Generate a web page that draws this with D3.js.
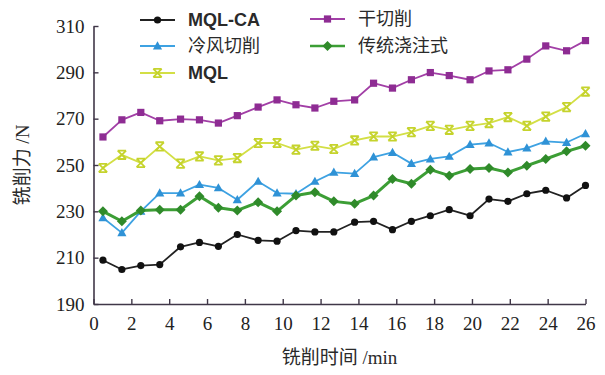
<!DOCTYPE html>
<html>
<head>
<meta charset="utf-8">
<script src="https://cdn.jsdelivr.net/npm/d3@7"></script>
<style>
  html, body { margin: 0; padding: 0; background: #ffffff; }
  svg { display: block; }
</style>
</head>
<body>
<svg id="chart" width="605" height="375"></svg>
<script>
// Milling time (min) of each measurement
const times = [0.5, 1.5, 2.5, 3.5, 4.6, 5.6, 6.6, 7.6, 8.7, 9.7, 10.7, 11.7, 12.7,
               13.8, 14.8, 15.8, 16.8, 17.8, 18.8, 19.9, 20.9, 21.9, 22.9, 23.9, 25.0, 26.0];

// Milling force (N) under each cooling/lubrication condition
const mqlCA = [208.9, 204.9, 206.6, 207.0, 214.7, 216.6, 214.9, 220.0, 217.5, 217.1, 221.7, 221.1, 221.1,
               225.3, 225.7, 222.1, 225.7, 228.1, 230.7, 228.1, 235.3, 234.3, 237.6, 239.1, 235.8, 241.2];
const dryCut = [262.1, 269.5, 272.7, 269.1, 269.8, 269.5, 268.1, 271.3, 275.0, 278.1, 276.0, 274.6, 277.5,
                278.1, 285.3, 283.2, 286.8, 289.9, 288.6, 286.8, 290.6, 291.1, 295.7, 301.4, 299.3, 303.7];
const coldAir = [227.2, 220.7, 230.0, 237.9, 237.9, 241.5, 240.1, 235.0, 242.9, 237.9, 237.6, 242.9, 246.8,
                 246.3, 253.4, 255.4, 250.6, 252.6, 253.7, 258.8, 259.5, 255.6, 257.3, 260.2, 259.7, 263.5];
const flood = [230.0, 225.7, 230.4, 230.7, 230.7, 236.5, 231.5, 230.4, 233.9, 230.0, 236.8, 238.2, 234.3,
               233.3, 236.8, 244.0, 241.9, 248.0, 245.4, 248.3, 248.7, 246.8, 249.7, 252.6, 255.9, 258.3];
const mql = [248.7, 254.4, 250.9, 258.0, 250.6, 253.7, 252.0, 253.0, 259.5, 259.5, 256.6, 258.3, 256.9,
             260.6, 262.3, 262.3, 264.2, 266.9, 265.2, 266.9, 268.1, 270.7, 266.9, 270.9, 275.0, 281.7];

// Axis ticks and titles
const xTicks = [0, 2, 4, 6, 8, 10, 12, 14, 16, 18, 20, 22, 24, 26];
const yTicks = [190, 210, 230, 250, 270, 290, 310];
const xTitle = ["铣削时间", " /min"];
const yTitle = ["铣削力", " /N"];

// Series: name, values, colours, marker
const seriesNames = ["MQL-CA", "冷风切削", "MQL", "干切削", "传统浇注式"];
const seriesValues = [mqlCA, coldAir, mql, dryCut, flood];
const lineColors = ["#222222", "#3ea2e2", "#d3df45", "#a23fa6", "#3c9e35"];
const markColors = ["#111111", "#2f92d6", "#c5d32c", "#8e2c93", "#2f8a2a"];
const markers = ["circle", "triangle", "x", "square", "diamond"];
const lineWidths = [1.8, 1.8, 1.8, 1.8, 3];

const svg = d3.select("#chart");
const axisColor = "#403748";

const x = d3.scaleLinear().domain([0, 26]).range([93.5, 585.5]);
const y = d3.scaleLinear().domain([190, 310]).range([304, 26]);

// Axes with inward ticks
const yAxis = svg.append("g")
  .attr("transform", `translate(${x(0)},0)`)
  .call(d3.axisLeft(y).tickValues(yTicks).tickFormat(d3.format("d"))
    .tickSizeInner(-5).tickSizeOuter(0).tickPadding(9));
const xAxis = svg.append("g")
  .attr("transform", `translate(0,${y(190)})`)
  .call(d3.axisBottom(x).tickValues(xTicks).tickFormat(d3.format("d"))
    .tickSizeInner(-5).tickSizeOuter(0).tickPadding(13));

[xAxis, yAxis].forEach(g => {
  g.select(".domain").attr("stroke", axisColor).attr("stroke-width", 1.6);
  g.selectAll(".tick line").attr("stroke", axisColor).attr("stroke-width", 1.4);
  g.selectAll(".tick text")
    .attr("fill", "#222")
    .attr("font-family", "'Liberation Serif', 'DejaVu Serif', serif")
    .attr("font-size", 19);
});

// Marker shapes
function drawMarker(g, type, cx, cy, color) {
  if (type === "circle") {
    g.append("circle").attr("cx", cx).attr("cy", cy).attr("r", 3.6).attr("fill", color);
  } else if (type === "square") {
    g.append("rect").attr("x", cx - 3.6).attr("y", cy - 3.6).attr("width", 7.2).attr("height", 7.2).attr("fill", color);
  } else if (type === "triangle") {
    g.append("path").attr("d", `M${cx},${cy - 4.8}L${cx + 4.6},${cy + 3.4}L${cx - 4.6},${cy + 3.4}Z`).attr("fill", color);
  } else if (type === "diamond") {
    g.append("path").attr("d", `M${cx},${cy - 5}L${cx + 5},${cy}L${cx},${cy + 5}L${cx - 5},${cy}Z`).attr("fill", color);
  } else if (type === "x") {
    const s = 4.2;
    g.append("path")
      .attr("d", `M${cx - s},${cy - s}L${cx + s},${cy + s}M${cx + s},${cy - s}L${cx - s},${cy + s}` +
                 `M${cx - s},${cy - s}L${cx + s},${cy - s}M${cx - s},${cy + s}L${cx + s},${cy + s}`)
      .attr("stroke", color).attr("stroke-width", 1.8).attr("fill", "none");
  }
}

// Lines and markers
const drawOrder = [2, 3, 1, 4, 0];
drawOrder.forEach(i => {
  const pts = times.map((t, k) => [t, seriesValues[i][k]]);
  const g = svg.append("g");
  g.append("path")
    .datum(pts)
    .attr("fill", "none")
    .attr("stroke", lineColors[i])
    .attr("stroke-width", lineWidths[i])
    .attr("stroke-linejoin", "round")
    .attr("d", d3.line().x(d => x(d[0])).y(d => y(d[1])));
  pts.forEach(d => drawMarker(g, markers[i], x(d[0]), y(d[1]), markColors[i]));
});

// Legend (two columns)
const legendPos = [
  { lx: 140, ly: 20 }, { lx: 140, ly: 46 }, { lx: 140, ly: 73 },
  { lx: 310, ly: 19 }, { lx: 310, ly: 46 }
];
seriesNames.forEach((name, i) => {
  const p = legendPos[i];
  const g = svg.append("g");
  g.append("line").attr("x1", p.lx).attr("x2", p.lx + 35).attr("y1", p.ly).attr("y2", p.ly)
    .attr("stroke", lineColors[i]).attr("stroke-width", lineWidths[i] === 3 ? 2.4 : 1.8);
  drawMarker(g, markers[i], p.lx + 17.5, p.ly, markColors[i]);
  const latin = /^[A-Za-z\-]+$/.test(name);
  g.append("text")
    .attr("x", p.lx + 48).attr("y", p.ly).attr("dy", "0.36em")
    .attr("fill", "#2a2a2a")
    .attr("font-family", latin ? "'Liberation Sans', Arial, sans-serif" : "'Noto Sans CJK SC', sans-serif")
    .attr("font-weight", latin ? "bold" : "normal")
    .attr("font-size", latin ? 18 : 18)
    .text(name);
});

// Axis titles
const xt = svg.append("text")
  .attr("x", x(13)).attr("y", 357).attr("text-anchor", "middle").attr("dy", "0.35em")
  .attr("fill", "#2a2a2a").attr("font-size", 19);
xt.append("tspan").attr("font-family", "'Noto Sans CJK SC', sans-serif").text(xTitle[0]);
xt.append("tspan").attr("font-family", "'Liberation Serif', serif").text(xTitle[1]);

const yt = svg.append("text")
  .attr("transform", `translate(22,${y(250)}) rotate(-90)`)
  .attr("text-anchor", "middle").attr("dy", "0.35em")
  .attr("fill", "#2a2a2a").attr("font-size", 19);
yt.append("tspan").attr("font-family", "'Noto Sans CJK SC', sans-serif").text(yTitle[0]);
yt.append("tspan").attr("font-family", "'Liberation Serif', serif").text(yTitle[1]);
</script>
</body>
</html>
